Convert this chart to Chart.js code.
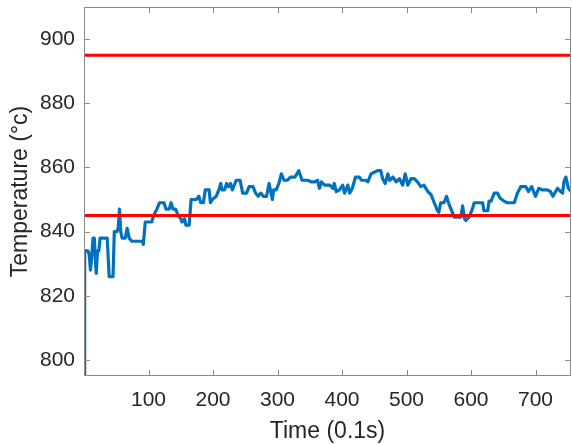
<!DOCTYPE html>
<html>
<head>
<meta charset="utf-8">
<script src="https://cdn.jsdelivr.net/npm/chart.js@4.4.1/dist/chart.umd.min.js"></script>
<style>
  html, body { margin: 0; padding: 0; background: #fff; }
  #wrap { width: 572px; height: 445px; }
</style>
</head>
<body>
<div id="wrap"><canvas id="grafico" width="572" height="445"></canvas></div>
<script>
// tiempo (0.1s) y temperatura
var times = [0, 1, 6, 8, 10, 12, 14, 16, 18, 19, 21, 23, 25, 36, 38, 39, 45, 47, 51, 53,
  55, 57, 59, 64, 67, 70, 74, 90, 92, 95, 105, 108, 113, 117, 124, 127, 132, 135, 138, 142,
  146, 150, 152, 156, 158, 163, 166, 174, 178, 181, 185, 188, 194, 196, 199, 205, 209, 212, 214, 218,
  221, 224, 227, 230, 236, 242, 246, 252, 256, 262, 266, 270, 274, 278, 283, 287, 290, 292, 294, 298,
  302, 306, 310, 315, 320, 327, 333, 338, 347, 352, 358, 362, 365, 368, 373, 381, 386, 388, 391, 396,
  401, 404, 409, 412, 416, 421, 427, 430, 437, 440, 445, 450, 455, 460, 463, 467, 471, 474, 479, 484,
  489, 494, 498, 502, 507, 512, 517, 522, 527, 533, 538, 543, 548, 550, 553, 558, 562, 565, 569, 574,
  584, 587, 590, 592, 597, 602, 605, 610, 618, 620, 626, 628, 631, 636, 641, 645, 651, 656, 667, 672,
  677, 685, 689, 694, 700, 705, 710, 718, 723, 727, 734, 739, 742, 744, 747, 751, 755];
var temps = [795, 834, 834, 833, 828, 832, 838, 838, 830, 827, 834, 834, 838, 838, 830, 826, 826, 840, 840, 841,
  847, 840, 838, 838, 841, 838, 837, 837, 836, 843, 843, 845, 847, 849, 849, 847, 847, 849, 847, 847,
  845, 844, 843, 844, 842, 842, 850, 850, 851, 849, 849, 853, 853, 849, 850, 851, 853, 855, 853, 853,
  855, 854, 855, 853, 856, 856, 852, 852, 854, 854, 852, 851, 852, 851, 851, 855, 852, 850, 853, 853,
  855, 858, 856, 856, 857, 857, 859, 856, 856, 855.5, 855.5, 856, 853.5, 855.5, 854.5, 854.5, 853.5, 855, 852.5, 853,
  854.5, 852, 854.5, 852, 853.5, 857, 857, 856, 856, 855.5, 858, 858.5, 859, 859, 856.5, 855, 858, 856, 857, 855.5,
  856.5, 854.5, 858, 854.5, 856.5, 856.5, 855.5, 854, 854.5, 852.5, 851.5, 849, 846.5, 846, 849, 849, 851, 849, 847, 844.5,
  844.5, 848, 844, 843.5, 844.5, 847, 849, 849, 849, 846.5, 846.5, 849.5, 849.5, 852, 852, 850.5, 849.5, 849, 849, 852,
  854, 854, 852.5, 854, 851, 853.5, 853, 853, 852.5, 851, 853.5, 852.5, 852, 855.5, 857, 853.5, 852.5];

// limites superior e inferior (lineas rojas)
var upperLimit = 895;
var lowerLimit = 845;

// ejes
var xMin = 0, xMax = 755;
var yMin = 795, yMax = 910;
var xTicks = [100, 200, 300, 400, 500, 600, 700];
var yTicks = [800, 820, 840, 860, 880, 900];

var fuente = '"Liberation Sans", Arial, Helvetica, sans-serif';
var colorTexto = '#262626';
var colorEje = '#8a8a8a';

// caja alrededor del area + ticks hacia adentro (estilo matlab)
var cajaMatlab = {
  id: 'cajaMatlab',
  afterDatasetsDraw: function (chart) {
    var ctx = chart.ctx;
    var a = chart.chartArea;
    var sx = chart.scales.x, sy = chart.scales.y;
    var largo = 6;
    ctx.save();
    ctx.strokeStyle = colorEje;
    ctx.lineWidth = 1;
    ctx.beginPath();
    xTicks.forEach(function (v) {
      var px = Math.round(sx.getPixelForValue(v)) + 0.5;
      ctx.moveTo(px, a.bottom); ctx.lineTo(px, a.bottom - largo);
      ctx.moveTo(px, a.top); ctx.lineTo(px, a.top + largo);
    });
    yTicks.forEach(function (v) {
      var py = Math.round(sy.getPixelForValue(v)) + 0.5;
      ctx.moveTo(a.left, py); ctx.lineTo(a.left + largo, py);
      ctx.moveTo(a.right, py); ctx.lineTo(a.right - largo, py);
    });
    ctx.stroke();
    ctx.strokeRect(a.left + 0.5, a.top + 0.5, a.right - a.left - 1, a.bottom - a.top - 1);
    ctx.restore();
  }
};

var ctx = document.getElementById('grafico');
var myChart = new Chart(ctx, {
  type: 'line',
  data: {
    datasets: [{
      label: 'Limite superior',
      data: [{ x: xMin, y: upperLimit }, { x: xMax, y: upperLimit }],
      borderColor: '#ff0000',
      borderWidth: 3,
      pointRadius: 0,
      order: 0
    }, {
      label: 'Limite inferior',
      data: [{ x: xMin, y: lowerLimit }, { x: xMax, y: lowerLimit }],
      borderColor: '#ff0000',
      borderWidth: 3,
      pointRadius: 0,
      order: 0
    }, {
      label: 'Temperatura',
      data: times.map(function (t, i) { return { x: t, y: temps[i] }; }),
      borderColor: '#0072bd',
      borderWidth: 3.2,
      borderJoinStyle: 'round',
      borderCapStyle: 'round',
      pointRadius: 0,
      tension: 0,
      order: 1
    }]
  },
  options: {
    responsive: false,
    animation: false,
    layout: { padding: { top: 7, right: 1, left: 0, bottom: 0 } },
    plugins: {
      legend: { display: false },
      tooltip: { enabled: false }
    },
    scales: {
      x: {
        type: 'linear',
        min: xMin,
        max: xMax,
        afterBuildTicks: function (scale) {
          scale.ticks = xTicks.map(function (v) { return { value: v }; });
        },
        afterFit: function (scale) {
          scale.height = 69;
          scale.paddingLeft = 0;
          scale.paddingRight = 0;
        },
        grid: { display: false, drawTicks: false },
        border: { display: false },
        ticks: {
          padding: 12,
          color: colorTexto,
          font: { family: fuente, size: 21 },
          maxRotation: 0
        },
        title: {
          display: true,
          text: 'Time (0.1s)',
          color: colorTexto,
          font: { family: fuente, size: 23 },
          padding: { top: 0, bottom: 0 }
        }
      },
      y: {
        min: yMin,
        max: yMax,
        afterBuildTicks: function (scale) {
          scale.ticks = yTicks.map(function (v) { return { value: v }; });
        },
        afterFit: function (scale) {
          scale.width = 84;
          scale.paddingTop = 0;
          scale.paddingBottom = 0;
        },
        grid: { display: false, drawTicks: false },
        border: { display: false },
        ticks: {
          padding: 9,
          color: colorTexto,
          font: { family: fuente, size: 21 }
        },
        title: {
          display: true,
          text: 'Temperature (°c)',
          color: colorTexto,
          font: { family: fuente, size: 23 },
          padding: { top: 7, bottom: 0 }
        }
      }
    }
  },
  plugins: [cajaMatlab]
});
</script>
</body>
</html>
